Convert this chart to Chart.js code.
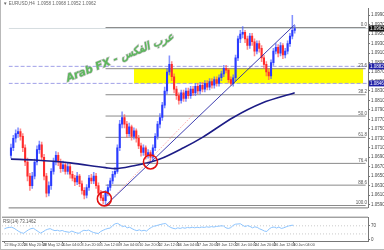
<!DOCTYPE html>
<html>
<head>
<meta charset="utf-8">
<script src="https://cdn.jsdelivr.net/npm/chart.js@4.4.1/dist/chart.umd.min.js"></script>
<style>
html, body { margin: 0; padding: 0; background: #fff; }
#wrap { position: relative; width: 384px; height: 250px; overflow: hidden; }
#main { position: absolute; left: 0; top: 0; }
#rsi { position: absolute; left: 0; top: 214px; }
#edge { position: absolute; left: 0; top: 0; width: 1px; height: 250px; background: #b9b9b9; }
#foot { position: absolute; left: 0; top: 249px; width: 384px; height: 1px; background: #b9b9b9; }
</style>
</head>
<body>
<div id="wrap">
  <canvas id="main" width="384" height="216"></canvas>
  <canvas id="rsi" width="384" height="36"></canvas>
  <div id="edge"></div><div id="foot"></div>
</div>
<script>
// EURUSD H4 candles, index 0..120
const opens = [1.0694,1.0710,1.0730,1.0740,1.0744,1.0734,1.0710,1.0680,1.0650,1.0630,
  1.0650,1.0680,1.0706,1.0716,1.0690,1.0650,1.0614,1.0630,1.0660,1.0680,
  1.0694,1.0680,1.0666,1.0674,1.0660,1.0670,1.0654,1.0646,1.0638,1.0650,
  1.0634,1.0620,1.0610,1.0626,1.0646,1.0640,1.0650,1.0630,1.0614,1.0604,
  1.0598,1.0614,1.0626,1.0640,1.0654,1.0660,1.0710,1.0760,1.0774,1.0760,
  1.0740,1.0754,1.0734,1.0746,1.0730,1.0714,1.0700,1.0710,1.0694,1.0700,
  1.0690,1.0710,1.0734,1.0760,1.0774,1.0800,1.0830,1.0870,1.0886,1.0860,
  1.0834,1.0820,1.0810,1.0826,1.0814,1.0830,1.0820,1.0834,1.0826,1.0840,
  1.0830,1.0842,1.0834,1.0846,1.0838,1.0850,1.0842,1.0854,1.0846,1.0858,
  1.0866,1.0878,1.0874,1.0854,1.0846,1.0858,1.0900,1.0940,1.0950,1.0954,
  1.0940,1.0926,1.0946,1.0934,1.0914,1.0930,1.0920,1.0900,1.0886,1.0870,
  1.0862,1.0890,1.0914,1.0922,1.0910,1.0926,1.0906,1.0914,1.0930,1.0946,
  1.0958];
const highs = [1.0718,1.0736,1.0748,1.0752,1.0750,1.0740,1.0716,1.0688,1.0656,1.0658,
  1.0686,1.0714,1.0724,1.0722,1.0696,1.0656,1.0638,1.0666,1.0688,1.0702,
  1.0700,1.0686,1.0682,1.0680,1.0678,1.0676,1.0660,1.0652,1.0658,1.0654,
  1.0640,1.0626,1.0632,1.0652,1.0654,1.0658,1.0656,1.0636,1.0620,1.0610,
  1.0620,1.0632,1.0646,1.0660,1.0668,1.0716,1.0768,1.0786,1.0780,1.0766,
  1.0762,1.0758,1.0752,1.0750,1.0736,1.0720,1.0716,1.0714,1.0706,1.0704,
  1.0716,1.0740,1.0766,1.0782,1.0806,1.0838,1.0878,1.0904,1.0892,1.0866,
  1.0840,1.0826,1.0832,1.0832,1.0836,1.0836,1.0840,1.0840,1.0846,1.0846,
  1.0848,1.0848,1.0852,1.0852,1.0856,1.0856,1.0860,1.0860,1.0864,1.0872,
  1.0884,1.0884,1.0878,1.0860,1.0864,1.0906,1.0946,1.0958,1.0966,1.0958,
  1.0946,1.0952,1.0952,1.0940,1.0936,1.0936,1.0926,1.0906,1.0892,1.0876,
  1.0896,1.0920,1.0930,1.0928,1.0932,1.0930,1.0920,1.0936,1.0952,1.0990,
  1.0968];
const lows = [1.0688,1.0704,1.0722,1.0732,1.0726,1.0702,1.0672,1.0640,1.0620,1.0624,
  1.0644,1.0674,1.0698,1.0684,1.0642,1.0606,1.0608,1.0622,1.0654,1.0674,
  1.0672,1.0658,1.0660,1.0654,1.0654,1.0646,1.0640,1.0630,1.0632,1.0628,
  1.0612,1.0602,1.0604,1.0620,1.0634,1.0634,1.0624,1.0608,1.0598,1.0592,
  1.0588,1.0608,1.0620,1.0634,1.0648,1.0656,1.0704,1.0752,1.0752,1.0732,
  1.0734,1.0726,1.0728,1.0722,1.0708,1.0692,1.0694,1.0686,1.0688,1.0678,
  1.0684,1.0704,1.0728,1.0752,1.0768,1.0794,1.0824,1.0864,1.0852,1.0826,
  1.0812,1.0802,1.0804,1.0808,1.0808,1.0814,1.0814,1.0820,1.0820,1.0824,
  1.0824,1.0828,1.0828,1.0832,1.0832,1.0836,1.0836,1.0840,1.0840,1.0852,
  1.0860,1.0868,1.0848,1.0842,1.0840,1.0852,1.0894,1.0932,1.0942,1.0932,
  1.0918,1.0920,1.0926,1.0904,1.0908,1.0912,1.0892,1.0878,1.0862,1.0854,
  1.0856,1.0884,1.0908,1.0902,1.0904,1.0898,1.0900,1.0908,1.0924,1.0940,
  1.0952];
const closes = [1.0710,1.0730,1.0740,1.0744,1.0734,1.0710,1.0680,1.0650,1.0630,1.0650,
  1.0680,1.0706,1.0716,1.0690,1.0650,1.0614,1.0630,1.0660,1.0680,1.0694,
  1.0680,1.0666,1.0674,1.0660,1.0670,1.0654,1.0646,1.0638,1.0650,1.0634,
  1.0620,1.0610,1.0626,1.0646,1.0640,1.0650,1.0630,1.0614,1.0604,1.0598,
  1.0614,1.0626,1.0640,1.0654,1.0660,1.0710,1.0760,1.0774,1.0760,1.0740,
  1.0754,1.0734,1.0746,1.0730,1.0714,1.0700,1.0710,1.0694,1.0700,1.0690,
  1.0710,1.0734,1.0760,1.0774,1.0800,1.0830,1.0870,1.0886,1.0860,1.0834,
  1.0820,1.0810,1.0826,1.0814,1.0830,1.0820,1.0834,1.0826,1.0840,1.0830,
  1.0842,1.0834,1.0846,1.0838,1.0850,1.0842,1.0854,1.0846,1.0858,1.0866,
  1.0878,1.0874,1.0854,1.0846,1.0858,1.0900,1.0940,1.0950,1.0954,1.0940,
  1.0926,1.0946,1.0934,1.0914,1.0930,1.0920,1.0900,1.0886,1.0870,1.0862,
  1.0890,1.0914,1.0922,1.0910,1.0926,1.0906,1.0914,1.0930,1.0946,1.0958,
  1.0962];

// moving average, read at a few candles
const maIdx = [0, 10, 25, 40, 44, 52, 59, 63, 73, 81, 94, 106, 120];
const maVal = [1.0686, 1.0684, 1.0678, 1.0668, 1.0666, 1.0672, 1.0680, 1.0686, 1.0710, 1.0732, 1.0774, 1.0804, 1.0826];

const rsiVals = [55,60,62,63,58, 50,42,36,33, 42,50,56,58, 50,42,34,40, 48,53,56,50,
  46,48,44,47,42, 40,38,44,39,35,33, 42,48,46,49,42, 37,34,32,42, 48,53,57,59,
  72,80,82, 75,66,69,60,63, 56,50,46,50,45,48,44, 54,62,68,70,74,77,80,81,
  70,62,58,55,60, 57,61,58,62,60,63,60,63, 61,64,62,65,63,66,64,67,68,70,
  69,60,57,61, 72,78,79,80, 72,66,71,67,60,65,62,55, 50,44,42, 55,62,64,
  59,64,57,60,65, 69,72,73];

const priceTicks = [1.0590,1.0610,1.0630,1.0650,1.0670,1.0690,1.0710,1.0730,1.0750,1.0770,
  1.0790,1.0810,1.0830,1.0850,1.0870,1.0890,1.0910,1.0930,1.0950,1.0970,1.0990];
const dateIdx = [0, 8, 16, 24, 32, 40, 48, 56, 64, 72, 80, 88, 96, 104, 112, 120];
const dateLabels = ['22 May 2020', '26 May 20:00', '28 May 12:00', '2 Jun 04:00', '3 Jun 20:00',
  '5 Jun 12:00', '9 Jun 04:00', '10 Jun 20:00', '12 Jun 12:00', '16 Jun 04:00', '17 Jun 20:00',
  '19 Jun 12:00', '23 Jun 04:00', '24 Jun 20:00', '26 Jun 12:00', '30 Jun 04:00'];

const fibNames = ['0.0', '23.6', '38.2', '50.0', '61.8', '76.4', '88.6', '100.0'];
const fibLevels = [1.0964, 1.0877, 1.0822, 1.0777, 1.0732, 1.0677, 1.0631, 1.0588];
const zoneTop = 1.0878, zoneBottom = 1.0846;
const dashLevels = [1.0882, 1.0846];
const bidPrice = 1.0962;
const circles = [{x: 39.5, y: 1.0602}, {x: 59, y: 1.0680}];
const trendMain = [{x: 40, y: 1.0588}, {x: 120, y: 1.0970}];
const trendDots = [{x: 40, y: 1.0588}, {x: 77, y: 1.0780}];

const UP = '#2a3bff', DOWN = '#ff2a2a';
const candleColors = closes.map((c, i) => c >= opens[i] ? UP : DOWN);
const wickColors = closes.map((c, i) => c >= opens[i] ? 'rgba(80,100,255,0.7)' : 'rgba(255,90,90,0.7)');

function hLine(v, from, to) { return [{x: from, y: v}, {x: to, y: v}]; }

const lineBase = {type: 'line', pointRadius: 0, fill: false, tension: 0};
const datasets = [
  {...lineBase, data: hLine(zoneTop, 52, 149), borderWidth: 0, backgroundColor: '#ffff00',
   fill: {value: zoneBottom}, order: 20},
  ...dashLevels.map(v => ({...lineBase, data: hLine(v, -1, 151), borderColor: '#a0a0e8',
   borderWidth: 1, borderDash: [4, 2], order: 19})),
  {...lineBase, data: hLine(bidPrice, -1, 151), borderColor: '#d5dde0', borderWidth: 1, order: 18},
  ...fibLevels.map(v => ({...lineBase, data: hLine(v, 40, 150), borderColor: '#8a8a8a',
   borderWidth: 1, order: 17})),
  {type: 'bar', data: lows.map((l, i) => ({x: i, y: [l, highs[i]]})), backgroundColor: wickColors,
   barThickness: 0.9, grouped: false, order: 10},
  {type: 'bar', data: opens.map((o, i) => ({x: i, y: [o, closes[i]]})), backgroundColor: candleColors,
   barThickness: 1.4, grouped: false, minBarLength: 0.6, order: 9},
  {...lineBase, data: maIdx.map((x, i) => ({x, y: maVal[i]})), borderColor: '#1c1c86',
   borderWidth: 1.6, cubicInterpolationMode: 'monotone', order: 5},
  {...lineBase, data: trendMain, borderColor: '#2a2aa8', borderWidth: 0.9, order: 4},
  {...lineBase, data: trendDots, borderColor: '#ff8c8c', borderWidth: 0.9, borderDash: [1, 1.5], order: 4},
  {type: 'scatter', data: circles, pointRadius: 7, pointBorderWidth: 1.6, pointBorderColor: '#e01010',
   pointBackgroundColor: 'rgba(0,0,0,0)', order: 1}
];

const overlay = {
  id: 'overlay',
  afterDraw(chart) {
    const {ctx, chartArea: a, scales: {y}} = chart;
    ctx.save();
    ctx.strokeStyle = '#777';
    ctx.lineWidth = 1;
    ctx.beginPath();
    ctx.moveTo(a.left, a.bottom + 0.5);
    ctx.lineTo(a.right, a.bottom + 0.5);
    ctx.stroke();

    // fibo texts
    ctx.font = '4.5px "Liberation Sans"';
    ctx.fillStyle = '#555';
    ctx.textAlign = 'right';
    ctx.textBaseline = 'bottom';
    fibLevels.forEach((v, i) => ctx.fillText(fibNames[i], a.right - 1, y.getPixelForValue(v) - 0.5));

    // price boxes on the axis
    ctx.textAlign = 'left';
    ctx.textBaseline = 'middle';
    const box = (v, bg) => {
      const py = y.getPixelForValue(v);
      ctx.fillStyle = bg;
      ctx.fillRect(a.right + 1, py - 3, 15, 6);
      ctx.fillStyle = '#fff';
      ctx.fillText(v.toFixed(4), a.right + 2, py + 0.3);
    };
    dashLevels.forEach(v => box(v, '#1f1fa8'));
    box(bidPrice, '#111');

    // title
    ctx.fillStyle = '#666';
    ctx.font = '4.5px "Liberation Sans"';
    ctx.fillText('\u25BC EURUSD,H4  ' + [opens[120], highs[120], lows[120], closes[120]].map(v => v.toFixed(4)).join(' '), 3, 4);

    // watermark
    ctx.translate(120, 58);
    ctx.rotate(-0.38);
    ctx.font = 'italic bold 10.5px "DejaVu Sans"';
    ctx.textAlign = 'center';
    ctx.lineWidth = 1.2;
    ctx.strokeStyle = 'rgba(140,140,140,0.55)';
    ctx.strokeText('Arab FX - عرب الفكس', 0, 0);
    ctx.fillStyle = '#5cb85c';
    ctx.fillText('Arab FX - عرب الفكس', 0, 0);
    ctx.restore();
  }
};

new Chart(document.getElementById('main'), {
  type: 'bar',
  data: {datasets},
  options: {
    responsive: false,
    animation: false,
    layout: {padding: {left: 2, right: 0, top: 3, bottom: 3}},
    plugins: {legend: {display: false}, tooltip: {enabled: false}},
    scales: {
      x: {type: 'linear', min: -1, max: 151, offset: false, display: false},
      y: {
        position: 'right', min: 1.0584, max: 1.1004,
        afterBuildTicks: s => { s.ticks = priceTicks.map(v => ({value: v})); },
        afterFit: s => { s.width = 16; },
        grid: {drawOnChartArea: false, drawTicks: true, tickLength: 2, color: '#777'},
        border: {display: true, color: '#777'},
        ticks: {font: {size: 4.5, family: 'Liberation Sans'}, color: '#444', padding: 1,
          callback: v => v.toFixed(4)}
      }
    }
  },
  plugins: [overlay]
});

const rsiOverlay = {
  id: 'rsiOverlay',
  afterDraw(chart) {
    const {ctx, chartArea: a} = chart;
    ctx.save();
    ctx.strokeStyle = '#777';
    ctx.lineWidth = 1;
    ctx.beginPath();
    ctx.moveTo(a.left, a.top - 0.5);
    ctx.lineTo(a.right, a.top - 0.5);
    ctx.stroke();
    ctx.fillStyle = '#555';
    ctx.font = '4.5px "Liberation Sans"';
    ctx.textBaseline = 'top';
    ctx.fillText('RSI(14) 73.1462', 3, a.top + 1.5);
    ctx.restore();
  }
};

new Chart(document.getElementById('rsi'), {
  type: 'line',
  data: {
    datasets: [
      {data: rsiVals.map((v, i) => ({x: i, y: v})), borderColor: '#8cc4ff', borderWidth: 1,
       pointRadius: 0, tension: 0},
      ...[70, 30].map(v => ({data: hLine(v, -1, 151), borderColor: '#bdbdbd', borderWidth: 0.8,
       borderDash: [1, 2], pointRadius: 0}))
    ]
  },
  options: {
    responsive: false,
    animation: false,
    layout: {padding: {left: 2, right: 0, top: 3, bottom: 0}},
    plugins: {legend: {display: false}, tooltip: {enabled: false}},
    scales: {
      x: {
        type: 'linear', min: -1, max: 151, offset: false,
        afterBuildTicks: s => { s.ticks = dateIdx.map(v => ({value: v})); },
        afterFit: s => { s.height = 9; },
        grid: {drawOnChartArea: false, drawTicks: true, tickLength: 2, color: '#777'},
        border: {display: true, color: '#777'},
        ticks: {autoSkip: false, maxRotation: 0, align: 'start', padding: 0,
          font: {size: 3.7, family: 'Liberation Sans'}, color: '#444',
          callback: (v, i) => dateLabels[i]}
      },
      y: {
        position: 'right', min: -5, max: 110,
        afterBuildTicks: s => { s.ticks = [0, 30, 70, 100].map(v => ({value: v})); },
        afterFit: s => { s.width = 16; },
        grid: {drawOnChartArea: false, drawTicks: true, tickLength: 2, color: '#777'},
        border: {display: true, color: '#777'},
        ticks: {font: {size: 4.5, family: 'Liberation Sans'}, color: '#444', padding: 1}
      }
    }
  },
  plugins: [rsiOverlay]
});
</script>
</body>
</html>
